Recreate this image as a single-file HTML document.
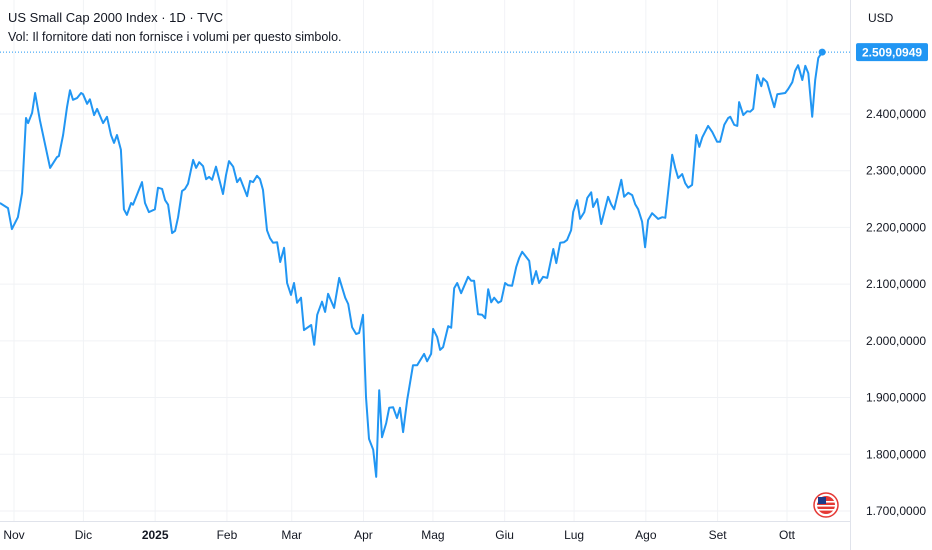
<!DOCTYPE html>
<html><head><meta charset="utf-8"><style>
body{margin:0;background:#fff;font-family:"Liberation Sans",sans-serif}
#wrap{position:relative;width:932px;height:550px;overflow:hidden}
svg text{font-family:"Liberation Sans",sans-serif}
</style></head><body>
<div id="wrap">
<svg id="chart" width="932" height="550"></svg>
</div>
<script>
const days=[-6.1,-2.6,-0.9,1.7,3.5,5.2,6.1,7.8,9.1,11.2,15.6,18.6,19.4,21.2,22.9,24.2,25.5,27.2,29.0,29.8,31.6,32.8,34.6,35.9,38.5,40.2,41.9,43.2,44.5,46.2,47.5,48.8,50.6,51.4,55.3,56.6,58.3,60.9,62.2,64.0,65.3,66.6,68.3,69.6,70.9,72.6,73.9,75.2,77.4,78.7,80.0,81.7,83.0,84.3,85.6,87.3,90.3,91.6,92.9,94.7,96.4,97.7,100.7,102.0,103.3,105.0,106.3,107.6,109.3,110.6,111.9,113.7,115.0,116.7,118.0,119.7,121.0,122.3,124.0,125.3,128.4,129.7,131.0,133.1,134.4,135.7,138.3,140.5,143.1,144.4,146.1,147.8,149.1,150.8,152.1,153.4,155.2,156.5,157.8,159.0,160.8,162.1,163.8,165.5,166.8,168.1,169.9,172.4,174.2,177.2,178.5,180.2,181.1,182.8,184.1,185.4,187.6,188.9,190.2,191.5,193.2,196.2,197.5,198.8,200.5,202.3,203.6,204.9,206.2,207.5,209.2,210.5,212.2,213.5,215.2,217.0,218.3,219.6,222.6,223.9,225.6,226.9,228.6,230.4,233.0,234.3,236.0,237.7,239.0,240.7,241.6,243.3,244.6,246.4,247.7,249.4,250.2,252.0,253.7,256.7,258.0,259.3,260.6,262.4,263.6,265.4,267.1,268.4,269.7,271.4,272.7,274.0,275.7,278.3,280.1,281.4,284.4,285.7,287.0,288.7,290.0,291.3,293.0,294.8,296.1,297.4,299.9,301.7,303.8,305.1,306.9,308.6,309.5,311.2,312.5,313.3,315.1,316.8,318.1,319.4,321.1,322.9,323.7,325.4,327.2,328.5,329.8,333.2,334.5,336.3,337.5,338.8,340.6,341.9,343.2,344.9,346.2,347.5,349.2];
const values=[2243,2234,2197,2218,2261,2393,2384,2402,2437,2389,2305,2324,2326,2363,2412,2442,2425,2428,2437,2435,2418,2426,2398,2409,2384,2395,2363,2349,2363,2337,2232,2222,2243,2240,2280,2243,2227,2232,2270,2268,2248,2240,2190,2194,2218,2264,2268,2277,2319,2305,2315,2308,2285,2289,2284,2307,2259,2292,2317,2307,2280,2287,2255,2282,2280,2291,2285,2266,2195,2181,2173,2174,2139,2164,2102,2081,2102,2067,2076,2019,2028,1993,2046,2069,2051,2083,2058,2111,2076,2065,2024,2012,2014,2046,1901,1827,1808,1760,1913,1830,1855,1882,1883,1864,1882,1839,1896,1957,1957,1977,1964,1977,2021,2007,1984,1989,2026,2023,2093,2102,2084,2113,2106,2106,2047,2046,2040,2091,2068,2076,2067,2070,2102,2098,2097,2130,2146,2157,2141,2100,2123,2102,2113,2111,2162,2137,2173,2174,2178,2195,2227,2248,2215,2227,2252,2262,2236,2250,2206,2254,2241,2232,2254,2284,2254,2261,2257,2241,2232,2210,2165,2213,2225,2215,2218,2217,2328,2305,2287,2294,2278,2270,2275,2363,2342,2359,2379,2368,2351,2351,2381,2393,2395,2381,2379,2421,2398,2405,2404,2409,2469,2449,2463,2456,2430,2412,2435,2437,2444,2456,2476,2486,2460,2485,2472,2395,2460,2499,2509.0949];
const yTicks=[2400,2300,2200,2100,2000,1900,1800,1700];
const yTickLabels=["2.400,0000","2.300,0000","2.200,0000","2.100,0000","2.000,0000","1.900,0000","1.800,0000","1.700,0000"];
const monthDays=[0,30,61,92,120,151,181,212,242,273,304,334];
const monthLabels=["Nov","Dic","2025","Feb","Mar","Apr","Mag","Giu","Lug","Ago","Set","Ott"];
const lastLabel="2.509,0949";

const NS="http://www.w3.org/2000/svg";
const svg=document.getElementById('chart');
const X=d=>14+d*2.3144;
const Y=v=>114+(2400-v)*0.5671;
function el(t,a,p){const e=document.createElementNS(NS,t);for(const k in a)e.setAttribute(k,a[k]);(p||svg).appendChild(e);return e;}
const grid=el('g',{});


monthDays.forEach(d=>{const l=el('line',{x1:X(d),x2:X(d),y1:0,y2:521,stroke:'#f2f3f6','stroke-width':1},grid);

});
yTicks.forEach(v=>{const l=el('line',{x1:0,x2:850,y1:Y(v),y2:Y(v),stroke:'#f0f2f5','stroke-width':1},grid);

});
const ax=el('line',{x1:850.5,x2:850.5,y1:0,y2:550,stroke:'#e0e3eb'});


const bx=el('line',{x1:0,x2:850,y1:521.5,y2:521.5,stroke:'#e0e3eb'});


yTicks.forEach((v,i)=>{const t=el('text',{x:866,y:Y(v)+4,'font-size':12,fill:'#131722'});t.textContent=yTickLabels[i];

});
monthDays.forEach((d,i)=>{const t=el('text',{x:X(d),y:539,'font-size':12,fill:'#131722','text-anchor':'middle','font-weight':monthLabels[i]==='2025'?'bold':'normal'});t.textContent=monthLabels[i];

});
const lastV=values[values.length-1], lastD=days[days.length-1];
const pl=el('line',{x1:0,x2:850,y1:Y(lastV),y2:Y(lastV),stroke:'#2196f3','stroke-width':1,'stroke-dasharray':'1,2'});


let dstr=days.map((d,i)=>(i?'L':'M')+X(d).toFixed(1)+','+Y(values[i]).toFixed(1)).join('');
const path=el('path',{d:dstr,fill:'none',stroke:'#2196f3','stroke-width':2,'stroke-linejoin':'round'});


const dot=el('circle',{cx:X(lastD),cy:Y(lastV),r:3.5,fill:'#2196f3'});


const lb=el('rect',{x:856,y:Y(lastV)-9,width:72,height:18,rx:2,fill:'#2196f3'});


const lt=el('text',{x:862,y:Y(lastV)+4.5,'font-size':12,fill:'#fff','font-weight':'bold'});lt.textContent=lastLabel;


const t1=el('text',{x:8,y:22,'font-size':13,fill:'#131722'});t1.textContent='US Small Cap 2000 Index · 1D · TVC';


const t2=el('text',{x:8,y:41,'font-size':12.5,fill:'#131722'});t2.textContent='Vol: Il fornitore dati non fornisce i volumi per questo simbolo.';


const cu=el('text',{x:868,y:22,'font-size':12,fill:'#131722'});cu.textContent='USD';


const fg=el('g',{});


el('circle',{cx:826,cy:505,r:12,fill:'#fff',stroke:'#e53935','stroke-width':1.5},fg);
el('circle',{cx:826,cy:505,r:9,fill:'#e53935'},fg);
[501,505,509].forEach(y=>el('rect',{x:817,y:y,width:18,height:1.6,fill:'#fff'},fg));
el('rect',{x:818,y:497,width:8,height:7,fill:'#1e3a8a'},fg);
</script>
</body></html>
